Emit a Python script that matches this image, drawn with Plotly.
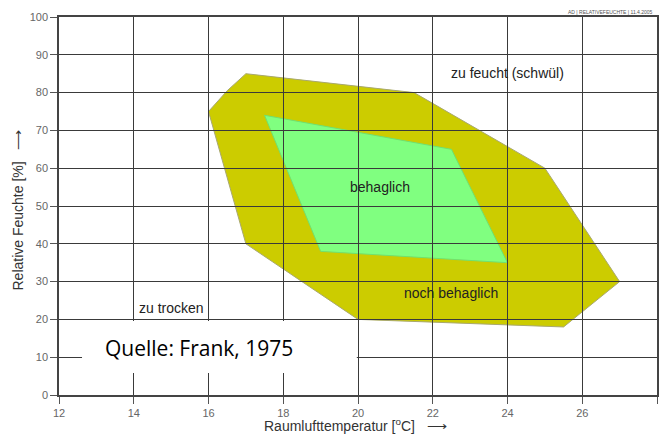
import plotly.graph_objects as go

# Data
yellow_x = [16, 16.5, 17, 21.5, 25, 27, 25.5, 20, 17]
yellow_y = [75, 80.5, 85, 80, 60, 30, 18, 20, 40]
green_x = [17.5, 22.5, 24, 19]
green_y = [74, 65, 35, 38]

label_text = ["zu feucht (schwül)", "behaglich", "noch behaglich", "zu trocken"]
label_x = [24.0, 20.6, 22.5, 15.0]
label_y = [85.2, 55, 27, 23]

x_ticks = [12, 14, 16, 18, 20, 22, 24, 26, 28]
y_ticks = [0, 10, 20, 30, 40, 50, 60, 70, 80, 90, 100]


def poly_path(xs, ys):
    pts = [f"{x},{y}" for x, y in zip(xs, ys)]
    return "M " + " L ".join(pts) + " Z"


fig = go.Figure()
# invisible trace so axes exist
fig.add_trace(go.Scatter(x=yellow_x + green_x, y=yellow_y + green_y, mode="markers",
                         marker=dict(opacity=0), hoverinfo="skip", showlegend=False))

fig.add_shape(type="path", path=poly_path(yellow_x, yellow_y), xref="x", yref="y",
              fillcolor="#cccc00", line=dict(color="#a8a870", width=1), layer="below")
fig.add_shape(type="path", path=poly_path(green_x, green_y), xref="x", yref="y",
              fillcolor="#80ff80", line=dict(color="#70e070", width=1), layer="below")

for t, x, y in zip(label_text, label_x, label_y):
    fig.add_annotation(x=x, y=y, text=t, showarrow=False, xref="x", yref="y",
                       font=dict(family="Liberation Sans, Arial", size=14, color="#222"))

# source box
fig.add_shape(type="rect", xref="paper", yref="paper", x0=0.0385, x1=0.498, y0=0.058, y1=0.196,
              fillcolor="white", line=dict(width=0), layer="above")
fig.add_annotation(xref="paper", yref="paper", x=0.0736, y=0.124, xanchor="left", yanchor="middle",
                   text="Quelle: Frank, 1975", showarrow=False,
                   font=dict(family="Open Sans", size=21, color="black"))

# top-right header
fig.add_annotation(xref="paper", yref="paper", x=0.997, y=1.0, xanchor="right", yanchor="bottom",
                   text="AD | RELATIVEFEUCHTE | 11.4.2005", showarrow=False,
                   font=dict(family="Liberation Sans, Arial", size=5, color="#555"))

# axis titles
fig.add_annotation(xref="paper", yref="paper", x=0.495, y=-0.08, xanchor="center", yanchor="middle",
                   text="Raumlufttemperatur [<sup>o</sup>C]   ⟶", showarrow=False,
                   font=dict(family="Liberation Sans, Arial", size=14, color="#333"))
fig.add_annotation(xref="paper", yref="paper", x=-0.069, y=0.49, xanchor="center", yanchor="middle",
                   text="Relative Feuchte [%]   ⟶", showarrow=False, textangle=-90,
                   font=dict(family="Liberation Sans, Arial", size=14, color="#333"))

axis_common = dict(showgrid=True, gridcolor="#3a3a3a", gridwidth=1,
                   showline=True, linecolor="#444", linewidth=1.5, mirror=True,
                   ticks="outside", ticklen=7, tickcolor="#555", tickwidth=1,
                   tickfont=dict(family="Liberation Sans, Arial", size=11, color="#666"),
                   zeroline=False, fixedrange=True, automargin=False)

fig.update_layout(
    width=662, height=435,
    margin=dict(l=59, r=5, t=17, b=40),
    plot_bgcolor="white", paper_bgcolor="white",
    showlegend=False,
    xaxis=dict(range=[12, 28], tickvals=x_ticks, **axis_common),
    yaxis=dict(range=[0, 100], tickvals=y_ticks, **axis_common),
)

fig.write_html("out.html", config={"displayModeBar": False},
               post_script="document.body.style.margin='0px';document.body.style.overflow='hidden';")
